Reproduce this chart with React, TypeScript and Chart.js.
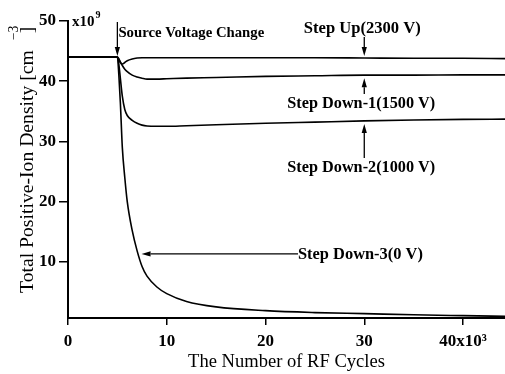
import React, { useEffect, useRef } from "react";
import { Chart, registerables } from "chart.js";
Chart.register(...registerables);

// x in thousands of RF cycles
const cycles = [0, 5, 5.15, 5.3, 5.5, 5.75, 6, 6.5, 7, 7.5, 8, 9, 10, 12, 15, 20, 25, 30, 35, 40, 44.25];
const stepUp = [44, 44, 43.6, 43.1, 42.85, 43.1, 43.4, 43.7, 43.85, 43.9, 43.9, 43.9, 43.9, 43.9, 43.9, 43.9, 43.9, 43.85, 43.8, 43.8, 43.75];
const stepDown1 = [44, 44, 43.7, 43.2, 42.6, 42.0, 41.6, 41.0, 40.7, 40.5, 40.35, 40.35, 40.4, 40.5, 40.6, 40.8, 40.9, 41.0, 41.0, 41.05, 41.05];
const stepDown2 = [44, 44, 42.8, 40.5, 37.5, 35.3, 34.3, 33.5, 33.0, 32.7, 32.55, 32.5, 32.5, 32.6, 32.75, 33.0, 33.2, 33.4, 33.55, 33.65, 33.7];
const stepDown3 = [44, 44, 41, 36.5, 29, 24, 20, 15.2, 11.8, 9.2, 7.6, 5.8, 4.7, 3.4, 2.5, 1.87, 1.55, 1.37, 1.18, 1.04, 0.93];

const xTicks = [0, 10, 20, 30, 40];
const yTicks = [10, 20, 30, 40, 50];

// annotation anchors (data coordinates)
const sourceChangeAt = 5;
const labelArrowX = 30;
const stepDown3ArrowY = 11.3;

const SERIF = '"Liberation Serif", "Times New Roman", serif';

function fitText(ctx: CanvasRenderingContext2D, text: string, x: number, y: number, width: number, weight: string, align: CanvasTextAlign) {
  ctx.font = `${weight} 16px ${SERIF}`;
  const w = ctx.measureText(text).width;
  const size = (16 * width) / w;
  ctx.font = `${weight} ${size}px ${SERIF}`;
  ctx.textAlign = align;
  ctx.fillText(text, x, y);
  return size;
}

function arrow(ctx: CanvasRenderingContext2D, x1: number, y1: number, x2: number, y2: number) {
  ctx.save();
  ctx.strokeStyle = "#000";
  ctx.fillStyle = "#000";
  ctx.lineWidth = 1.3;
  const ang = Math.atan2(y2 - y1, x2 - x1);
  const hl = 9, hw = 2.6;
  const bx = x2 - hl * Math.cos(ang), by = y2 - hl * Math.sin(ang);
  ctx.beginPath();
  ctx.moveTo(x1, y1);
  ctx.lineTo(bx, by);
  ctx.stroke();
  ctx.beginPath();
  ctx.moveTo(x2, y2);
  ctx.lineTo(bx + hw * Math.sin(ang), by - hw * Math.cos(ang));
  ctx.lineTo(bx - hw * Math.sin(ang), by + hw * Math.cos(ang));
  ctx.closePath();
  ctx.fill();
  ctx.restore();
}

const annotationPlugin = {
  id: "annotations",
  afterDraw(chart: any) {
    const ctx: CanvasRenderingContext2D = chart.ctx;
    const xs = chart.scales.x, ys = chart.scales.y;
    const area = chart.chartArea;
    ctx.save();
    ctx.fillStyle = "#000";
    ctx.textBaseline = "alphabetic";

    // x10^9 multiplier
    ctx.font = `bold 15px ${SERIF}`;
    ctx.textAlign = "left";
    ctx.fillText("x10", area.left + 4, area.top + 5);
    const w10 = ctx.measureText("x10").width;
    ctx.font = `bold 10px ${SERIF}`;
    ctx.fillText("9", area.left + 5 + w10, area.top - 3);

    // Source voltage change
    const sx = xs.getPixelForValue(sourceChangeAt);
    arrow(ctx, sx, area.top + 1, sx, ys.getPixelForValue(44) - 1);
    fitText(ctx, "Source Voltage Change", sx + 1, 37, 146, "bold", "left");

    const ax = xs.getPixelForValue(labelArrowX);
    // Step Up
    fitText(ctx, "Step Up(2300 V)", ax - 2, 33, 117, "bold", "center");
    arrow(ctx, ax, 37, ax, ys.getPixelForValue(stepUp[17]) - 2);
    // Step Down-1
    arrow(ctx, ax, 94, ax, ys.getPixelForValue(stepDown1[17]) + 3);
    fitText(ctx, "Step Down-1(1500 V)", ax - 3, 108, 148, "bold", "center");
    // Step Down-2
    arrow(ctx, ax, 158, ax, ys.getPixelForValue(stepDown2[17]) + 3);
    fitText(ctx, "Step Down-2(1000 V)", ax - 3, 172, 148, "bold", "center");
    // Step Down-3
    const ay = ys.getPixelForValue(stepDown3ArrowY);
    arrow(ctx, 298, ay, xs.getPixelForValue(7.45), ay);
    fitText(ctx, "Step Down-3(0 V)", 298, ay + 5, 125, "bold", "left");

    // X axis title
    fitText(ctx, "The Number of RF Cycles", (area.left + area.right) / 2, 367, 197, "normal", "center");

    // Y axis title (rotated)
    ctx.save();
    ctx.translate(33, 293);
    ctx.rotate(-Math.PI / 2);
    const main = "Total Positive-Ion Density [cm";
    const sz = fitText(ctx, main, 0, 0, 243, "normal", "left");
    ctx.font = `normal ${sz}px ${SERIF}`;
    const mw = ctx.measureText(main).width;
    ctx.font = `normal ${sz * 0.7}px ${SERIF}`;
    ctx.textAlign = "left";
    ctx.fillText("\u22123", mw + 10, -15);
    ctx.font = `normal ${sz}px ${SERIF}`;
    ctx.fillText("]", mw + 17, 0);
    ctx.restore();

    ctx.restore();
  },
};

export default function App() {
  const ref = useRef<HTMLCanvasElement>(null);
  useEffect(() => {
    if (!ref.current) return;
    const mk = (ys: number[]) => cycles.map((x, i) => ({ x, y: ys[i] }));
    const ds = (ys: number[]) => ({
      data: mk(ys),
      borderColor: "#000",
      borderWidth: 1.6,
      pointRadius: 0,
      cubicInterpolationMode: "monotone" as const,
      fill: false,
    });
    const chart = new Chart(ref.current, {
      type: "line",
      data: { datasets: [ds(stepUp), ds(stepDown1), ds(stepDown2), ds(stepDown3)] },
      options: {
        animation: false,
        responsive: false,
        layout: { padding: { top: 21, right: 0, left: 0, bottom: 0 } },
        plugins: { legend: { display: false }, tooltip: { enabled: false } },
        scales: {
          x: {
            type: "linear",
            min: 0,
            max: 44.25,
            afterFit: (s: any) => { s.height = 56; },
            afterBuildTicks: (s: any) => { s.ticks = xTicks.map((v) => ({ value: v })); },
            ticks: {
              includeBounds: false,
              color: "#000",
              padding: 6,
              maxRotation: 0,
              font: { family: SERIF, size: 17, weight: "bold" },
              callback: (v: any) => (v === 40 ? "40x10\u00b3" : String(v)),
            },
            grid: { drawOnChartArea: false, drawTicks: true, tickLength: 7, color: "#000", lineWidth: 1.5 },
            border: { display: true, color: "#000", width: 2 },
          },
          y: {
            type: "linear",
            min: 0.65,
            max: 50,
            afterFit: (s: any) => { s.width = 68; },
            afterBuildTicks: (s: any) => { s.ticks = yTicks.map((v) => ({ value: v })); },
            ticks: {
              includeBounds: false,
              color: "#000",
              padding: 3,
              font: { family: SERIF, size: 17, weight: "bold" },
            },
            grid: { drawOnChartArea: false, drawTicks: true, tickLength: 9, color: "#000", lineWidth: 1.5 },
            border: { display: true, color: "#000", width: 2 },
          },
        },
      },
      plugins: [annotationPlugin],
    });
    return () => chart.destroy();
  }, []);
  return (
    <div style={{ position: "fixed", left: 0, top: 0, width: 505, height: 374, background: "#fff" }}>
      <canvas ref={ref} width={505} height={374} style={{ width: 505, height: 374 }} />
    </div>
  );
}
